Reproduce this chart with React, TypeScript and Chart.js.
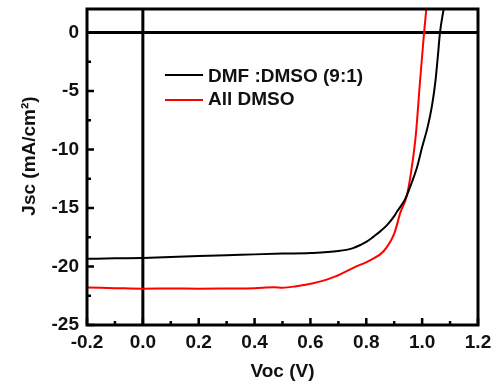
import React, { useEffect, useRef } from "react";
import { Chart, registerables } from "chart.js";

Chart.register(...registerables);

// ---- data ----
const SERIES_LABELS = ["DMF :DMSO (9:1)", "All DMSO"];
const SERIES_COLORS = ["#000000", "#ff0000"];

const V_DMF = [-0.2, -0.1, 0, 0.1, 0.2, 0.35, 0.5, 0.6, 0.7, 0.75, 0.78, 0.8, 0.826, 0.85, 0.875, 0.9, 0.91, 0.925, 0.94, 0.96, 0.982, 1.0, 1.02, 1.035, 1.047, 1.056, 1.064, 1.077];
const J_DMF = [-19.35, -19.3, -19.27, -19.2, -19.1, -19.0, -18.9, -18.85, -18.68, -18.45, -18.15, -17.9, -17.45, -17.0, -16.45, -15.7, -15.3, -14.8, -14.2, -13.0, -11.5, -9.8, -8.05, -6.3, -4.3, -2.1, 0, 2.0];

const V_DMSO = [-0.2, -0.1, 0, 0.1, 0.2, 0.3, 0.4, 0.47, 0.5, 0.55, 0.61, 0.64, 0.69, 0.755, 0.815, 0.862, 0.9, 0.922, 0.9445, 0.96, 0.978, 0.992, 1.007, 1.015];
const J_DMSO = [-21.8, -21.85, -21.9, -21.88, -21.9, -21.88, -21.85, -21.78, -21.82, -21.68, -21.43, -21.25, -20.85, -20.1, -19.45, -18.7, -17.2, -15.4, -14.0, -12.0, -8.6, -4.3, 0, 2.0];

const X_TICKS = [-0.2, 0, 0.2, 0.4, 0.6, 0.8, 1.0, 1.2];
const X_TICK_LABELS = ["-0.2", "0.0", "0.2", "0.4", "0.6", "0.8", "1.0", "1.2"];
const X_MINOR = [-0.1, 0.1, 0.3, 0.5, 0.7, 0.9, 1.1];
const Y_TICKS = [-25, -20, -15, -10, -5, 0];
const Y_TICK_LABELS = ["-25", "-20", "-15", "-10", "-5", "0"];
const Y_MINOR = [-2.5, -7.5, -12.5, -17.5, -22.5];

const X_TITLE = "Voc (V)";
const Y_TITLE = "Jsc (mA/cm²)";

const FONT_FAMILY = "'Liberation Sans', Arial, Helvetica, sans-serif";
const TEXT_COLOR = "#111111";

const framePlugin = {
  id: "framePlugin",
  beforeDatasetsDraw(chart: any) {
    const { ctx, chartArea: a, scales } = chart;
    const x0 = scales.x.getPixelForValue(0);
    const y0 = scales.y.getPixelForValue(0);
    ctx.save();
    ctx.strokeStyle = "#000";
    ctx.lineWidth = 3;
    ctx.beginPath();
    ctx.moveTo(a.left, y0);
    ctx.lineTo(a.right, y0);
    ctx.moveTo(x0, a.top);
    ctx.lineTo(x0, a.bottom);
    ctx.stroke();
    ctx.restore();
  },
  afterDatasetsDraw(chart: any) {
    const { ctx, chartArea: a, scales } = chart;
    ctx.save();
    ctx.strokeStyle = "#000";
    ctx.lineWidth = 3;
    ctx.lineJoin = "miter";
    ctx.strokeRect(a.left, a.top, a.right - a.left, a.bottom - a.top);
    ctx.lineWidth = 2.5;
    ctx.beginPath();
    X_TICKS.forEach((v) => {
      const px = scales.x.getPixelForValue(v);
      ctx.moveTo(px, a.bottom);
      ctx.lineTo(px, a.bottom - 7);
    });
    X_MINOR.forEach((v) => {
      const px = scales.x.getPixelForValue(v);
      ctx.moveTo(px, a.bottom);
      ctx.lineTo(px, a.bottom - 4);
    });
    Y_TICKS.forEach((v) => {
      const py = scales.y.getPixelForValue(v);
      ctx.moveTo(a.left, py);
      ctx.lineTo(a.left + 7, py);
    });
    Y_MINOR.forEach((v) => {
      const py = scales.y.getPixelForValue(v);
      ctx.moveTo(a.left, py);
      ctx.lineTo(a.left + 4, py);
    });
    ctx.stroke();
    ctx.restore();
  },
  afterDraw(chart: any) {
    const { ctx } = chart;
    ctx.save();
    ctx.font = `bold 19px ${FONT_FAMILY}`;
    ctx.fillStyle = TEXT_COLOR;
    // legend
    const rows = [82, 105];
    const lineY = [75, 100];
    chart.data.datasets.forEach((ds: any, i: number) => {
      ctx.strokeStyle = ds.borderColor;
      ctx.lineWidth = 2;
      ctx.beginPath();
      ctx.moveTo(165, lineY[i]);
      ctx.lineTo(203, lineY[i]);
      ctx.stroke();
      ctx.textAlign = "left";
      ctx.textBaseline = "alphabetic";
      ctx.fillText(ds.label, 208, rows[i]);
    });
    // y title
    ctx.translate(35, 156);
    ctx.rotate(-Math.PI / 2);
    ctx.textAlign = "center";
    ctx.textBaseline = "alphabetic";
    ctx.fillText(Y_TITLE, 0, 0);
    ctx.restore();
  },
};

export default function App() {
  const canvasRef = useRef<HTMLCanvasElement | null>(null);

  useEffect(() => {
    if (!canvasRef.current) return;
    const chart = new Chart(canvasRef.current, {
      type: "line",
      data: {
        datasets: [
          {
            label: SERIES_LABELS[0],
            data: V_DMF.map((v, i) => ({ x: v, y: J_DMF[i] })),
            borderColor: SERIES_COLORS[0],
            backgroundColor: SERIES_COLORS[0],
            borderWidth: 2,
            pointRadius: 0,
            cubicInterpolationMode: "monotone",
            fill: false,
          },
          {
            label: SERIES_LABELS[1],
            data: V_DMSO.map((v, i) => ({ x: v, y: J_DMSO[i] })),
            borderColor: SERIES_COLORS[1],
            backgroundColor: SERIES_COLORS[1],
            borderWidth: 2,
            pointRadius: 0,
            cubicInterpolationMode: "monotone",
            fill: false,
          },
        ],
      },
      options: {
        animation: false,
        responsive: false,
        devicePixelRatio: 1,
        layout: { padding: { top: 9, right: 16, left: 0, bottom: 0 } },
        plugins: {
          legend: { display: false },
          tooltip: { enabled: false },
        },
        scales: {
          x: {
            type: "linear",
            min: -0.2,
            max: 1.2,
            grid: { display: false, drawTicks: false },
            border: { display: false },
            afterBuildTicks: (scale: any) => {
              scale.ticks = X_TICKS.map((v) => ({ value: v }));
            },
            afterFit: (scale: any) => {
              scale.height = 60;
              scale.paddingLeft = 0;
              scale.paddingRight = 0;
              scale.paddingTop = 0;
              scale.paddingBottom = 0;
            },
            ticks: {
              padding: 6,
              color: TEXT_COLOR,
              font: { family: FONT_FAMILY, size: 19, weight: "bold" },
              maxRotation: 0,
              autoSkip: false,
              callback: (_v: any, i: number) => X_TICK_LABELS[i],
            },
            title: {
              display: true,
              text: X_TITLE,
              color: TEXT_COLOR,
              font: { family: FONT_FAMILY, size: 19, weight: "bold" },
              padding: { top: 0, bottom: 2 },
            },
          },
          y: {
            type: "linear",
            min: -25,
            max: 2,
            grid: { display: false, drawTicks: false },
            border: { display: false },
            afterBuildTicks: (scale: any) => {
              scale.ticks = Y_TICKS.map((v) => ({ value: v }));
            },
            afterFit: (scale: any) => {
              scale.width = 87;
              scale.paddingLeft = 0;
              scale.paddingRight = 0;
              scale.paddingTop = 0;
              scale.paddingBottom = 0;
            },
            ticks: {
              padding: 8,
              color: TEXT_COLOR,
              font: { family: FONT_FAMILY, size: 19, weight: "bold" },
              autoSkip: false,
              callback: (_v: any, i: number) => Y_TICK_LABELS[i],
            },
            title: { display: false },
          },
        },
      },
      plugins: [framePlugin],
    } as any);
    return () => chart.destroy();
  }, []);

  return (
    <div style={{ position: "absolute", left: 0, top: 0, width: 494, height: 385, background: "#fff" }}>
      <canvas ref={canvasRef} width={494} height={385} />
    </div>
  );
}
